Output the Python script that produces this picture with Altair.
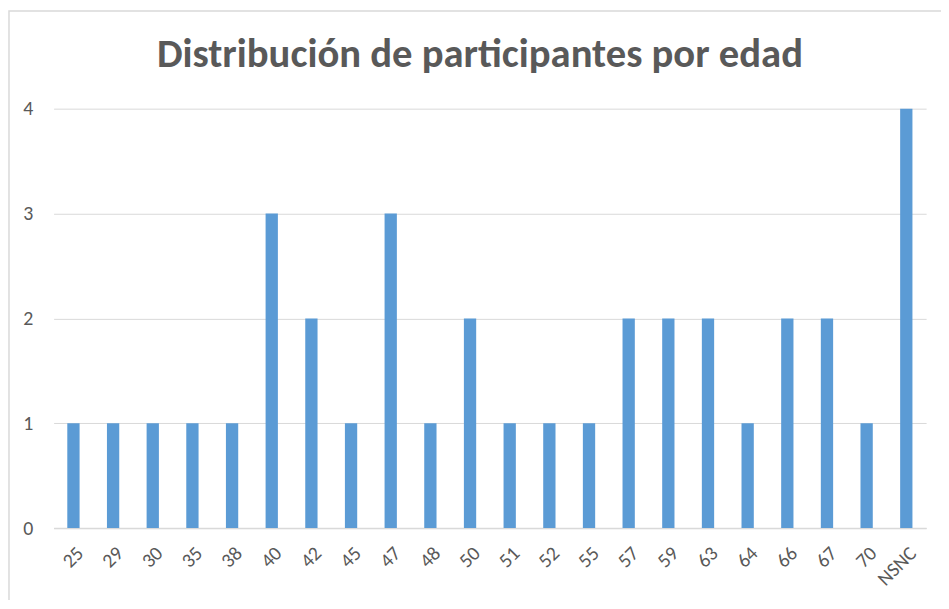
import altair as alt
import pandas as pd

edades = ["25", "29", "30", "35", "38", "40", "42", "45", "47", "48", "50",
          "51", "52", "55", "57", "59", "63", "64", "66", "67", "70", "NSNC"]
participantes = [1, 1, 1, 1, 1, 3, 2, 1, 3, 1, 2, 1, 1, 1, 2, 2, 2, 1, 2, 2, 1, 4]
titulo = "Distribución de participantes por edad"

df = pd.DataFrame({"edad": edades, "n": participantes})

FONT = "Carlito, Open Sans, sans-serif"

frame = alt.Chart(pd.DataFrame({"a": [0]})).mark_rect(
    fill=None, stroke="#d9d9d9", strokeWidth=1.5
).encode(
    x=alt.value(-45), x2=alt.value(960), y=alt.value(-98.5), y2=alt.value(640)
)

title_mark = alt.Chart(pd.DataFrame({"t": [titulo]})).mark_text(
    font=FONT, fontSize=41, fontWeight="bold", color="#595959",
    align="center", baseline="middle"
).encode(text="t:N", x=alt.value(430), y=alt.value(-54))

bars = alt.Chart(df).mark_bar(color="#5B9BD5").encode(
    x=alt.X("edad:N", sort=edades, title=None,
            scale=alt.Scale(paddingInner=0.69, paddingOuter=0.345),
            axis=alt.Axis(labelAngle=-45, labelFontSize=20, labelColor="#595959",
                          labelFont=FONT, domainColor="#d9d9d9", domainWidth=1.5,
                          ticks=False, labelPadding=15)),
    y=alt.Y("n:Q", title=None,
            scale=alt.Scale(domain=[0, 4], nice=False),
            axis=alt.Axis(values=[0, 1, 2, 3, 4], format="d", labelFontSize=20,
                          labelColor="#595959", labelFont=FONT, domain=False,
                          ticks=False, labelPadding=21, gridColor="#d9d9d9",
                          gridWidth=1))
)

chart = alt.layer(frame, title_mark, bars).properties(
    width=880, height=423,
    autosize=alt.AutoSizeParams(type="none"),
    padding={"left": 46, "top": 99, "right": 15, "bottom": 70},
).configure_view(stroke=None)

chart.save("out.html", embed_options={"renderer": "svg", "actions": False})
